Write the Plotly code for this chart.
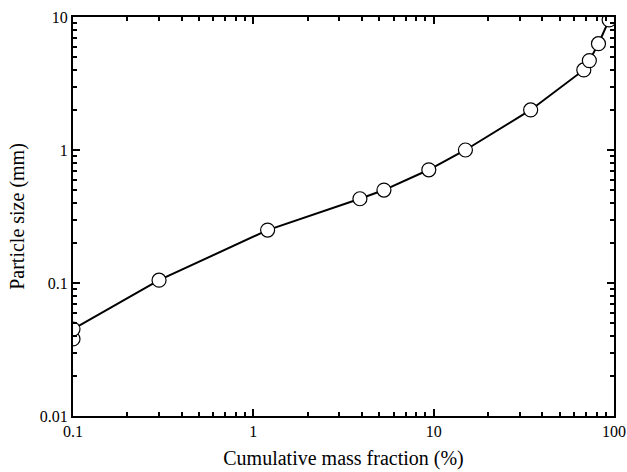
import plotly.graph_objects as go

mass_fraction = [0.1, 0.1, 0.3, 1.2, 3.9, 5.3, 9.4, 15, 34.5, 68, 73, 82, 94]
particle_size = [0.038, 0.045, 0.105, 0.25, 0.43, 0.50, 0.71, 1.0, 2.0, 4.0, 4.7, 6.3, 9.5]

x_tickvals = [0.1, 1, 10, 100]
x_ticktext = ["0.1", "1", "10", "100"]
y_tickvals = [0.01, 0.1, 1, 10]
y_ticktext = ["0.01", "0.1", "1", "10"]

fig = go.Figure()
fig.add_trace(go.Scatter(
    x=mass_fraction, y=particle_size, mode="lines+markers",
    line=dict(color="black", width=2),
    marker=dict(symbol="circle", size=14, color="white",
                line=dict(color="black", width=1.2)),
    cliponaxis=True, showlegend=False,
))

font = dict(family="Liberation Serif, Times New Roman, serif", color="black")
axis_common = dict(
    type="log", showgrid=False, zeroline=False, automargin=False,
    showline=True, linecolor="black", linewidth=2, mirror="ticks",
    ticks="inside", ticklen=7, tickwidth=2, tickcolor="black",
    tickfont=dict(size=16, **font),
    minor=dict(ticks="inside", ticklen=4, tickwidth=1.5, tickcolor="black",
               dtick="D1", showgrid=False),
)

fig.update_layout(
    width=627, height=472,
    margin=dict(l=73, r=13, t=17, b=56),
    paper_bgcolor="white", plot_bgcolor="white",
    font=font,
    xaxis=dict(range=[-1, 2], tickvals=x_tickvals, ticktext=x_ticktext,
               title=dict(text="Cumulative mass fraction (%)", font=dict(size=20, **font), standoff=12),
               **axis_common),
    yaxis=dict(range=[-2, 1], tickvals=y_tickvals, ticktext=y_ticktext,
               title=dict(text="Particle size (mm)", font=dict(size=20, **font), standoff=10),
               **axis_common),
)

fig.write_html("out.html")
